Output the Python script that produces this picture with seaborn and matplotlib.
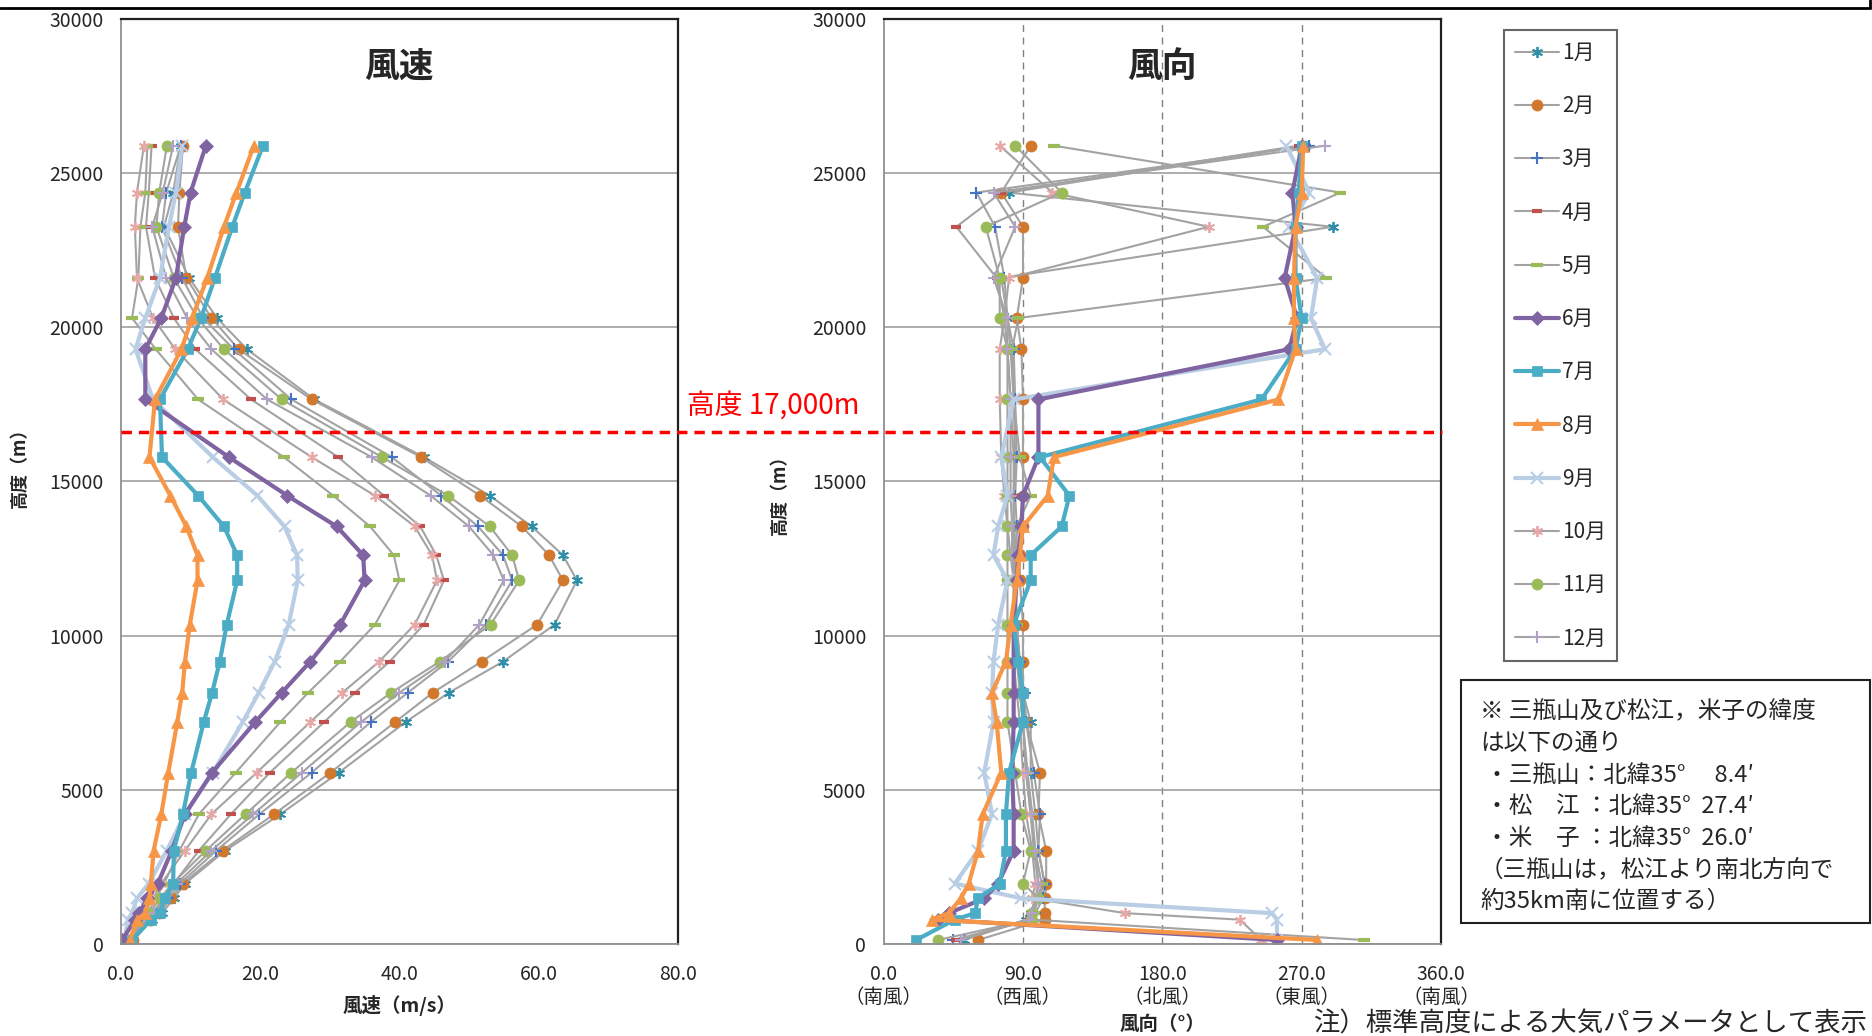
import matplotlib
matplotlib.use("Agg")
import matplotlib.pyplot as plt
import matplotlib.transforms as mtransforms
from matplotlib.lines import Line2D
from matplotlib.patches import Rectangle
from matplotlib.ticker import MultipleLocator, FormatStrFormatter
import seaborn as sns
import pandas as pd

# 高度（m）: 各月共通の標準高度
heights = [130, 790, 1000, 1480, 1960, 3030, 4210, 5560, 7200, 8150, 9160, 10360,
           11790, 12610, 13540, 14540, 15790, 17660, 19290, 20300, 21600, 23260, 24370, 25890]

months = ['1月', '2月', '3月', '4月', '5月', '6月', '7月', '8月', '9月', '10月', '11月', '12月']

# 風速（m/s）
speed_1 = [1.8, 4.5, 5.9, 7.6, 9.2, 15.0, 22.9, 31.3, 40.9, 47.1, 54.9, 62.3, 65.5, 63.5, 59.0, 53.0, 43.5, 27.8, 18.1, 13.8, 9.8, 6.2, 7.5, 8.6]
speed_2 = [1.7, 4.2, 5.5, 7.2, 8.9, 14.6, 22.0, 30.1, 39.4, 44.8, 51.8, 59.8, 63.5, 61.5, 57.6, 51.6, 43.1, 27.4, 16.9, 13.0, 9.4, 8.2, 8.4, 8.9]
speed_3 = [1.6, 4.0, 5.2, 6.8, 8.5, 13.7, 19.9, 27.4, 35.9, 41.2, 47.0, 52.4, 56.2, 54.9, 51.3, 46.0, 38.9, 24.5, 16.2, 11.8, 8.8, 5.9, 6.5, 8.6]
speed_4 = [1.4, 3.5, 4.6, 6.0, 7.6, 11.2, 15.8, 21.4, 29.2, 33.6, 38.6, 43.5, 46.4, 45.3, 43.0, 37.8, 31.2, 18.7, 10.7, 7.6, 4.9, 3.6, 4.0, 4.4]
speed_5 = [1.3, 3.0, 3.9, 5.0, 6.2, 8.4, 11.2, 16.5, 22.9, 26.9, 31.5, 36.5, 40.0, 39.2, 35.8, 30.5, 23.4, 11.1, 5.0, 1.6, 2.5, 2.8, 3.5, 3.8]
speed_6 = [0.2, 2.0, 2.6, 3.8, 5.3, 7.3, 9.2, 13.1, 19.3, 23.1, 27.2, 31.5, 35.0, 34.8, 31.0, 23.9, 15.5, 3.5, 3.5, 5.8, 7.9, 9.1, 10.0, 12.2]
speed_7 = [1.6, 4.3, 5.6, 6.3, 7.5, 7.6, 8.9, 10.1, 11.9, 13.1, 14.2, 15.2, 16.7, 16.7, 14.8, 11.1, 5.9, 5.6, 9.6, 11.5, 13.5, 16.0, 17.8, 20.4]
speed_8 = [1.3, 2.3, 3.5, 4.1, 4.3, 4.7, 5.8, 6.8, 8.1, 8.8, 9.2, 9.9, 11.0, 11.0, 9.4, 7.1, 4.1, 4.9, 8.7, 10.2, 12.4, 14.8, 16.6, 19.1]
speed_9 = [0.5, 1.0, 1.6, 2.3, 4.0, 6.6, 9.2, 13.2, 17.5, 19.8, 22.1, 24.1, 25.4, 25.3, 23.5, 19.6, 13.2, 4.6, 2.1, 3.5, 5.6, 6.9, 7.9, 8.8]
speed_10 = [1.2, 2.6, 3.4, 4.6, 5.8, 9.2, 13.0, 19.5, 27.2, 31.8, 37.1, 42.2, 45.4, 44.7, 42.2, 36.5, 27.4, 14.7, 7.8, 4.6, 2.3, 2.0, 2.3, 3.3]
speed_11 = [1.5, 3.4, 4.1, 5.6, 7.4, 12.2, 17.9, 24.5, 33.0, 38.8, 45.8, 53.1, 57.2, 56.2, 53.0, 47.0, 37.5, 23.1, 14.8, 11.0, 7.6, 5.1, 5.5, 6.6]
speed_12 = [1.5, 3.6, 4.8, 6.4, 8.0, 13.0, 19.0, 26.0, 34.5, 40.0, 46.5, 51.5, 55.0, 53.5, 50.0, 44.5, 36.0, 21.0, 13.0, 9.5, 6.5, 4.5, 6.0, 7.5]

# 風向（°）
dir_1 = [52, 92, 95, 100, 104, 100, 98, 95, 95, 90, 88, 86, 85, 85, 84, 84, 85, 84, 82, 80, 76, 290, 81, 272]
dir_2 = [61, 104, 104, 104, 105, 105, 100, 101, 92, 90, 90, 90, 88, 88, 90, 90, 90, 90, 89, 86, 90, 90, 76, 95]
dir_3 = [45, 96, 98, 103, 104, 100, 101, 97, 92, 91, 88, 86, 85, 86, 86, 85, 86, 85, 84, 80, 78, 72, 60, 275]
dir_4 = [47, 93, 95, 98, 100, 97, 95, 92, 90, 88, 87, 85, 84, 84, 84, 84, 84, 82, 80, 78, 73, 47, 76, 268]
dir_5 = [310, 96, 97, 100, 102, 98, 95, 92, 90, 88, 87, 86, 85, 85, 86, 95, 88, 84, 83, 87, 286, 245, 295, 110]
dir_6 = [254, 35, 42, 65, 74, 84, 84, 83, 84, 84, 84, 84, 86, 87, 89, 90, 100, 100, 262, 267, 259, 266, 264, 270]
dir_7 = [21, 46, 59, 61, 75, 79, 79, 81, 90, 90, 87, 84, 95, 95, 115, 120, 101, 244, 266, 270, 266, 266, 268, 270]
dir_8 = [280, 31, 42, 50, 55, 61, 64, 76, 73, 70, 79, 82, 86, 88, 90, 106, 110, 255, 266, 265, 265, 266, 270, 271]
dir_9 = [254, 254, 251, 89, 46, 61, 70, 65, 71, 70, 71, 74, 80, 71, 74, 80, 76, 84, 285, 276, 280, 262, 275, 260]
dir_10 = [244, 230, 156, 96, 98, 96, 92, 90, 88, 86, 84, 84, 84, 82, 80, 78, 76, 75, 75, 78, 81, 210, 109, 75]
dir_11 = [35, 95, 96, 100, 90, 95, 89, 85, 80, 80, 80, 80, 80, 80, 80, 80, 80, 80, 80, 75, 75, 66, 115, 85]
dir_12 = [50, 94, 96, 99, 100, 98, 96, 93, 90, 88, 86, 84, 84, 83, 83, 82, 82, 82, 80, 80, 71, 85, 71, 285]

dir_ticks = [0, 90, 180, 270, 360]
dir_names = ['（南風）', '（西風）', '（北風）', '（東風）', '（南風）']

speeds = dict(zip(months, [speed_1, speed_2, speed_3, speed_4, speed_5, speed_6,
                           speed_7, speed_8, speed_9, speed_10, speed_11, speed_12]))
dirs = dict(zip(months, [dir_1, dir_2, dir_3, dir_4, dir_5, dir_6,
                         dir_7, dir_8, dir_9, dir_10, dir_11, dir_12]))

GREY = '#A3A3A3'
styles = {
    '1月': dict(color=GREY, linewidth=1.5, marker=(6, 2, 0), markersize=8, markerfacecolor='#2F8FA8', markeredgecolor='#2F8FA8', markeredgewidth=1.3),
    '2月': dict(color=GREY, linewidth=1.5, marker='o', markersize=8, markerfacecolor='#D2782D', markeredgecolor='#D2782D', markeredgewidth=0.5),
    '3月': dict(color=GREY, linewidth=1.5, marker='+', markersize=9, markerfacecolor='#4472C4', markeredgecolor='#4472C4', markeredgewidth=1.5),
    '4月': dict(color=GREY, linewidth=1.5, marker='_', markersize=7, markerfacecolor='#C0504D', markeredgecolor='#C0504D', markeredgewidth=3),
    '5月': dict(color=GREY, linewidth=1.5, marker='_', markersize=8, markerfacecolor='#9BBB59', markeredgecolor='#9BBB59', markeredgewidth=3),
    '6月': dict(color='#8064A2', linewidth=3, marker='D', markersize=7, markerfacecolor='#8064A2', markeredgecolor='#8064A2', markeredgewidth=0.5),
    '7月': dict(color='#4BACC6', linewidth=3, marker='s', markersize=6.5, markerfacecolor='#4BACC6', markeredgecolor='#4BACC6', markeredgewidth=0.5),
    '8月': dict(color='#F79646', linewidth=3, marker='^', markersize=9, markerfacecolor='#F79646', markeredgecolor='#F79646', markeredgewidth=0.5),
    '9月': dict(color='#B9CDE5', linewidth=3, marker='x', markersize=8, markerfacecolor='#B9CDE5', markeredgecolor='#B9CDE5', markeredgewidth=1.5),
    '10月': dict(color=GREY, linewidth=1.5, marker=(6, 2, 0), markersize=8, markerfacecolor='#E6A9A8', markeredgecolor='#E6A9A8', markeredgewidth=1.3),
    '11月': dict(color=GREY, linewidth=1.5, marker='o', markersize=8, markerfacecolor='#9BBB59', markeredgecolor='#9BBB59', markeredgewidth=0.5),
    '12月': dict(color=GREY, linewidth=1.5, marker='+', markersize=9, markerfacecolor='#B3A2C7', markeredgecolor='#B3A2C7', markeredgewidth=1.5),
}
draw_order = ['1月', '2月', '3月', '4月', '5月', '10月', '11月', '12月', '9月', '6月', '7月', '8月']

sns.set_style('white')
plt.rcParams['font.family'] = ['Noto Sans CJK JP', 'DejaVu Sans']
plt.rcParams['axes.unicode_minus'] = False

fig = plt.figure(figsize=(18.72, 10.36), dpi=100)
ax1 = fig.add_axes([0.0646, 0.0888, 0.2975, 0.8929])
ax2 = fig.add_axes([0.4720, 0.0888, 0.2978, 0.8929])


def draw_profiles(ax, values, col):
    for m in draw_order:
        df = pd.DataFrame({col: values[m], '高度': heights})
        sns.lineplot(data=df, x=col, y='高度', orient='y', ax=ax, legend=False,
                     errorbar=None, label=m, **styles[m])


def style_axes(ax):
    ax.set_ylim(0, 30000)
    ax.yaxis.set_major_locator(MultipleLocator(5000))
    ax.yaxis.set_major_formatter(FormatStrFormatter('%d'))
    ax.yaxis.grid(True, color='#A0A0A0', linewidth=1.2)
    ax.xaxis.grid(False)
    ax.set_axisbelow(True)
    ax.tick_params(axis='x', which='both', direction='inout', length=7.5, width=1.2,
                   color='#909090', labelsize=14, pad=11)
    ax.tick_params(axis='y', direction='out', length=5, color='#909090', labelsize=14, pad=7.5)
    for s in ['top', 'right']:
        ax.spines[s].set_color('#202020')
        ax.spines[s].set_linewidth(1.6)
    for s in ['left', 'bottom']:
        ax.spines[s].set_color('#909090')
        ax.spines[s].set_linewidth(1.3)
    ax.set_ylabel('高度（m）', fontsize=13, fontweight='bold')


# 風速
draw_profiles(ax1, speeds, '風速')
style_axes(ax1)
ax1.set_xlim(0, 80)
ax1.xaxis.set_major_locator(MultipleLocator(20))
ax1.xaxis.set_minor_locator(MultipleLocator(4))
ax1.xaxis.set_major_formatter(FormatStrFormatter('%.1f'))
ax1.set_xlabel('風速（m/s）', fontsize=14, fontweight='bold')
ax1.xaxis.set_label_coords(0.5, -0.055)
ax1.yaxis.set_label_coords(-0.165, 0.52)
ax1.text(0.5, 0.949, '風速', transform=ax1.transAxes, ha='center', va='center',
         fontsize=25, fontweight='bold')

# 風向
for v in [90, 180, 270]:
    ax2.axvline(v, color='#808080', linestyle=(0, (5, 4)), linewidth=1, zorder=0.5)
draw_profiles(ax2, dirs, '風向')
style_axes(ax2)
ax2.set_xlim(0, 360)
ax2.set_xticks(dir_ticks)
ax2.xaxis.set_major_formatter(FormatStrFormatter('%.1f'))
ax2.xaxis.set_minor_locator(MultipleLocator(18))
name_trans = mtransforms.blended_transform_factory(ax2.transData, ax2.transAxes)
for v, name in zip(dir_ticks, dir_names):
    ax2.text(v, -0.058, name, transform=name_trans, ha='center', va='center', fontsize=14)
ax2.set_xlabel('風向（°）', fontsize=14, fontweight='bold')
ax2.xaxis.set_label_coords(0.5, -0.077)
ax2.yaxis.set_label_coords(-0.17, 0.49)
ax2.text(0.5, 0.949, '風向', transform=ax2.transAxes, ha='center', va='center',
         fontsize=25, fontweight='bold')

# 高度 17,000m の目安線
trans = mtransforms.blended_transform_factory(fig.transFigure, ax1.transData)
fig.add_artist(Line2D([0.0646, 0.7703], [16600, 16600], transform=trans, color='#FF0000',
                      linewidth=2.5, linestyle=(0, (3, 2)), zorder=10))
fig.text(0.367, 0.608, '高度 17,000m', color='#FF0000', fontsize=20, va='center', ha='left')

# 凡例
handles, labels = ax1.get_legend_handles_labels()
hmap = dict(zip(labels, handles))
leg = fig.legend([hmap[m] for m in months], months, loc='upper left',
                 bbox_to_anchor=(0.7976, 0.9807), frameon=True, fancybox=False,
                 edgecolor='#404040', fontsize=15, labelspacing=1.5, handlelength=2.1,
                 handletextpad=0.15, borderpad=0.55)
leg.get_frame().set_linewidth(1.5)

# 注記ボックス
fig.add_artist(Rectangle((0.7804, 0.1091), 0.2185, 0.2346, transform=fig.transFigure,
                         fill=False, edgecolor='#202020', linewidth=1.5))
note_lines = ['※ 三瓶山及び松江，米子の緯度',
              'は以下の通り',
              ' ・三瓶山：北緯35°　 8.4′',
              ' ・松　江 ：北緯35°  27.4′',
              ' ・米　子 ：北緯35°  26.0′',
              '（三瓶山は，松江より南北方向で',
              '約35km南に位置する）']
for i, line in enumerate(note_lines):
    fig.text(0.7906, 1 - (712 + i * 31.5) / 1036, line, fontsize=17, va='center', ha='left')

fig.text(0.7014, 0.025, '注）標準高度による大気パラメータとして表示', fontsize=19,
         va='top', ha='left')

# 上部の枠線
fig.add_artist(Line2D([0, 0.999], [0.992, 0.992], transform=fig.transFigure, color='black', linewidth=2))
fig.add_artist(Line2D([0.999, 0.999], [0.992, 1.0], transform=fig.transFigure, color='black', linewidth=2))

fig.savefig('out.png', dpi=100)
